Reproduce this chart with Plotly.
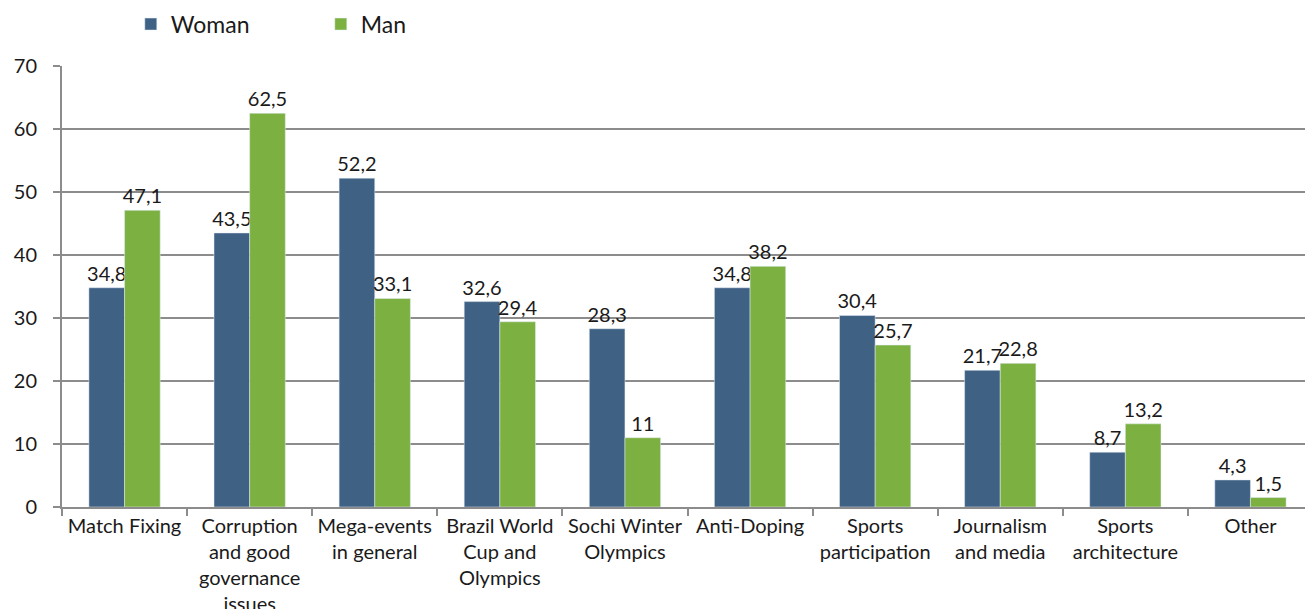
import plotly.graph_objects as go

categories = ["Match Fixing", "Corruption<br>and good<br>governance<br>issues", "Mega-events<br>in general",
              "Brazil World<br>Cup and<br>Olympics", "Sochi Winter<br>Olympics", "Anti-Doping",
              "Sports<br>participation", "Journalism<br>and media", "Sports<br>architecture", "Other"]
woman = [34.8, 43.5, 52.2, 32.6, 28.3, 34.8, 30.4, 21.7, 8.7, 4.3]
man = [47.1, 62.5, 33.1, 29.4, 11, 38.2, 25.7, 22.8, 13.2, 1.5]
y_ticks = [0, 10, 20, 30, 40, 50, 60, 70]

def fmt(v):
    s = ("%g" % v).replace(".", ",")
    return s

FONT = "Lato, Open Sans, sans-serif"
TXT = "#1a1a1a"

fig = go.Figure()
fig.add_trace(go.Bar(name="Woman", x=categories, y=woman, marker_color="#3F6184",
                     text=[fmt(v) for v in woman], textposition="outside", constraintext="none",
                     textfont=dict(size=20, color=TXT, family=FONT), cliponaxis=False))
fig.add_trace(go.Bar(name="Man", x=categories, y=man, marker_color="#7CB142",
                     text=[fmt(v) for v in man], textposition="outside", constraintext="none",
                     textfont=dict(size=20, color=TXT, family=FONT), cliponaxis=False))

fig.update_layout(
    width=1313, height=609,
    margin=dict(l=54, r=8, t=58, b=110, autoexpand=False),
    barmode="group", bargap=0.43, bargroupgap=0,
    plot_bgcolor="white", paper_bgcolor="white",
    font=dict(family=FONT, size=20, color=TXT),
    legend=dict(orientation="h", x=0.055, y=1.095, xanchor="left", yanchor="middle",
                font=dict(size=23, color=TXT), entrywidth=145, itemwidth=30),
    uniformtext=dict(mode=False),
)
fig.update_xaxes(showline=True, linecolor="#8c8c8c", linewidth=2, tickson="boundaries",
                 ticks="outside", ticklen=7, tickcolor="#8c8c8c", tickwidth=2, automargin=False,
                 tickfont=dict(size=20, color=TXT), tickangle=0, showgrid=False)
fig.update_yaxes(range=[0, 70], tickvals=y_ticks, ticktext=[str(t) for t in y_ticks],
                 showgrid=True, gridcolor="#8c8c8c", gridwidth=1.5, automargin=False,
                 showline=True, linecolor="#8c8c8c", linewidth=2,
                 ticks="outside", ticklen=7, tickcolor="#8c8c8c", tickwidth=2,
                 ticklabelstandoff=12,
                 tickfont=dict(size=20, color=TXT), zeroline=False)

fig.write_html("out.html")
